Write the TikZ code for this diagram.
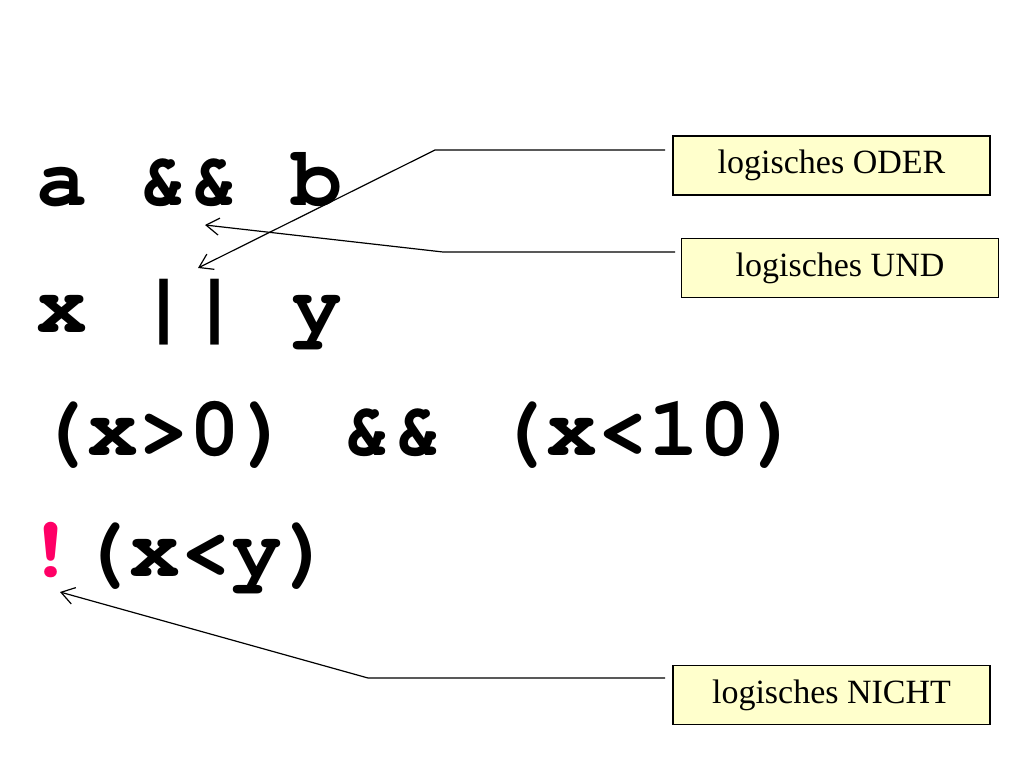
\documentclass[tikz,border=0pt]{standalone}
\usepackage{fontspec}
\setmainfont{Liberation Serif}
\newfontfamily\codefont{texgyrecursor}[Extension=.otf, UprightFont=*-regular, BoldFont=*-bold]
\usetikzlibrary{arrows.meta}
\definecolor{notepink}{RGB}{255,0,102}
\definecolor{labelfill}{RGB}{255,255,204}
\tikzset{
  codeline/.style={anchor=base west, inner sep=0pt, font=\codefont\bfseries\fontsize{85}{85}\selectfont},
  labelbox/.style={draw=black, line width=1.1pt, fill=labelfill, minimum width=317pt, minimum height=59pt, inner sep=0pt, font=\fontsize{34}{34}\selectfont},
  pointer/.style={draw=black, line width=1.2pt, -{Straight Barb[length=13pt,width=17pt,line width=1.2pt]}}
}
\begin{document}
\begin{tikzpicture}[x=1pt,y=-1pt]
\useasboundingbox[fill=white] (0,0) rectangle (1024,768);
% code lines
\node[codeline] (l1) at (36,205) {a \&\& b};
\node[codeline] (l2) at (36,332) {x || y};
\node[codeline] (l3) at (36,455) {(x>0) \&\& (x<10)};
\node[codeline, text=notepink, anchor=base] (bang) at (51,576) {!};
\node[codeline] (l4) at (78,576) {(x<y)};
% labels
\node[labelbox] (oder) at (831.5,165.5) {logisches ODER};
\node[labelbox] (und) at (840,268) {logisches UND};
\node[labelbox] (nicht) at (831.5,695) {logisches NICHT};
% connector points
\coordinate (oderS) at (665,150);
\coordinate (oderB) at (435,150);
\coordinate (oderT) at (198,268);
\coordinate (undS) at (675,252);
\coordinate (undB) at (443,252);
\coordinate (undT) at (205,225);
\coordinate (nichtS) at (665,678);
\coordinate (nichtB) at (368,678);
\coordinate (nichtT) at (60,592);
\draw[pointer] (oderS) -- (oderB) -- (oderT);
\draw[pointer] (undS) -- (undB) -- (undT);
\draw[pointer] (nichtS) -- (nichtB) -- (nichtT);
\end{tikzpicture}
\end{document}
